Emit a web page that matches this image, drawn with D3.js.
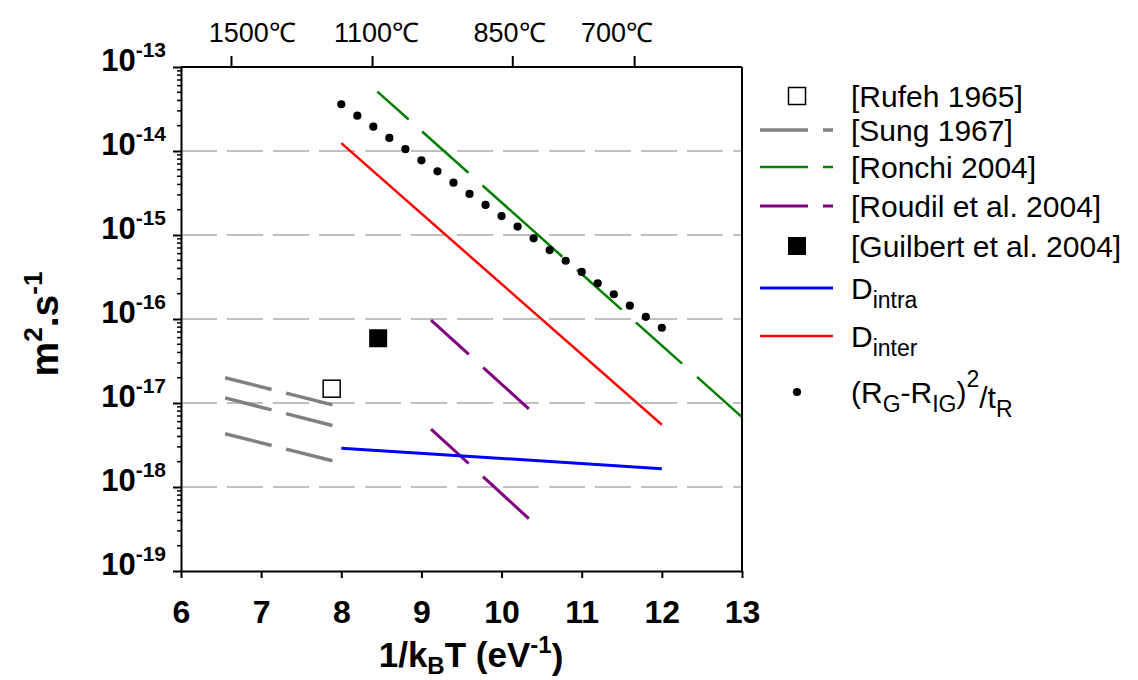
<!DOCTYPE html>
<html><head><meta charset="utf-8">
<script src="https://cdn.jsdelivr.net/npm/d3@7"></script>
<style>
body{margin:0;background:#fff;}
text{font-family:"Liberation Sans",Arial,sans-serif;}
</style></head>
<body><svg id="c" width="1138" height="680"></svg>
<script>
// ---- data ----
const xTicks = [6,7,8,9,10,11,12,13];
const yExponents = [-13,-14,-15,-16,-17,-18,-19];
const tempLabels = ["1500℃","1100℃","850℃","700℃"];
const tempPos = [6.63, 8.39, 10.14, 11.66];      // tick positions (1/kT)
const tempLabelPos = [6.89, 8.44, 10.10, 11.44]; // label centres (1/kT)

const rufehX = [7.88], rufehY = [1.48e-17];
const guilbertX = [8.46], guilbertY = [5.9e-17];

const sungX = [6.55, 7.89];
const sungA = [2.0e-17, 9.5e-18];
const sungB = [1.15e-17, 5.4e-18];
const sungC = [4.3e-18, 2.05e-18];

const ronchiX = [8.45, 13.0];
const ronchiY = [5.1e-14, 6.8e-18];

const roudilX = [9.12, 10.34];
const roudilA = [9.7e-17, 8.5e-18];
const roudilB = [4.9e-18, 4.2e-19];

const intraX = [8, 12];
const intraY = [2.9e-18, 1.65e-18];
const interX = [8, 12];
const interY = [1.24e-14, 5.5e-18];

const rgX = [8.0,8.2,8.4,8.6,8.8,9.0,9.2,9.4,9.6,9.8,10.0,10.2,10.4,10.6,10.8,11.0,11.2,11.4,11.6,11.8,12.0];
const rgY = [3.60e-14,2.63e-14,1.95e-14,1.43e-14,1.05e-14,7.74e-15,5.73e-15,4.20e-15,3.08e-15,2.28e-15,1.68e-15,1.26e-15,9.14e-16,6.62e-16,4.94e-16,3.63e-16,2.66e-16,1.97e-16,1.44e-16,1.06e-16,7.87e-17];

// ---- chart ----
const svg = d3.select("#c");
const L=181, R=742, T=67, B=571;
const x = d3.scaleLinear().domain([6,13]).range([L,R]);
const y = d3.scaleLog().domain([1e-19,1e-13]).range([B,T]);

// gridlines
const g = svg.append("g");
g.selectAll("line.grid").data(yExponents.filter(e=>e>-19&&e<-13)).join("line")
  .attr("x1",L).attr("x2",R).attr("y1",e=>y(Math.pow(10,e))).attr("y2",e=>y(Math.pow(10,e)))
  .attr("stroke","#c0c0c0").attr("stroke-width",2).attr("stroke-dasharray","36,10");

const line = d3.line().x(d=>x(d[0])).y(d=>y(d[1]));
const pairs = (xs,ys)=>xs.map((v,i)=>[v,ys[i]]);

function drawLine(xs,ys,color,w,dash){
  svg.append("path").attr("d",line(pairs(xs,ys))).attr("fill","none")
    .attr("stroke",color).attr("stroke-width",w).attr("stroke-dasharray",dash||null);
}
[sungA,sungB,sungC].forEach(s=>drawLine(sungX,s,"#808080",3.5,"48,15,80"));
[roudilA,roudilB].forEach(s=>drawLine(roudilX,s,"#800080",3,"51,19.5,80"));
drawLine(ronchiX,ronchiY,"#008000",2.5,"42,18,62,19,107,19.5,60,19,62,20,80");
drawLine(interX,interY,"#ff0000",2.5);
drawLine(intraX,intraY,"#0000ff",3);

// markers
svg.selectAll("rect.rufeh").data(pairs(rufehX,rufehY)).join("rect")
  .attr("x",d=>x(d[0])-8.5).attr("y",d=>y(d[1])-8.5).attr("width",17).attr("height",17)
  .attr("fill","#fff").attr("stroke","#000").attr("stroke-width",1.5);
svg.selectAll("rect.gui").data(pairs(guilbertX,guilbertY)).join("rect")
  .attr("x",d=>x(d[0])-9).attr("y",d=>y(d[1])-9).attr("width",18).attr("height",18)
  .attr("fill","#000");
svg.selectAll("circle.rg").data(pairs(rgX,rgY)).join("circle")
  .attr("cx",d=>x(d[0])).attr("cy",d=>y(d[1])).attr("r",4.1).attr("fill","#000");

// axes frame
const ax = svg.append("g").attr("stroke","#000").attr("stroke-width",2);
ax.append("line").attr("x1",L).attr("x2",R).attr("y1",T).attr("y2",T);
ax.append("line").attr("x1",R).attr("x2",R).attr("y1",T).attr("y2",B);

// bottom axis
const xAxis = svg.append("g").attr("transform",`translate(0,${B})`)
  .call(d3.axisBottom(x).tickValues(xTicks).tickSize(7).tickSizeOuter(0).tickFormat(d3.format("d")));
xAxis.select(".domain").attr("stroke-width",2);
xAxis.selectAll(".tick line").attr("stroke-width",2);
xAxis.selectAll(".tick text").attr("font-size",32).attr("font-weight","bold").attr("dy","1.3em")
  .attr("font-family","Liberation Sans, Arial, sans-serif");

// left axis
const yAxis = svg.append("g").attr("transform",`translate(${L},0)`)
  .call(d3.axisLeft(y).tickValues(yExponents.map(e=>Math.pow(10,e))).tickSize(8).tickSizeOuter(0).tickFormat(""));
yAxis.select(".domain").attr("stroke-width",2);
yAxis.selectAll(".tick line").attr("stroke-width",2);
yAxis.selectAll(".tick").each(function(d,i){
  const t = d3.select(this).append("text").attr("x",-15).attr("dy","0.36em")
    .attr("text-anchor","end").attr("fill","#000").attr("font-weight","bold")
    .attr("font-family","Liberation Sans, Arial, sans-serif");
  t.append("tspan").attr("font-size",31).text("10");
  t.append("tspan").attr("font-size",21).attr("dy","-0.65em").text(String(Math.round(Math.log10(d))));
});
// minor ticks
const minors = [];
for (let e=-19;e<-13;e++) for (let m=2;m<=9;m++) minors.push(m*Math.pow(10,e));
svg.append("g").selectAll("line").data(minors).join("line")
  .attr("x1",L-4).attr("x2",L).attr("y1",d=>y(d)).attr("y2",d=>y(d))
  .attr("stroke","#000").attr("stroke-width",1.5);

// top axis ticks + labels
const topAx = svg.append("g");
topAx.selectAll("line").data(tempPos).join("line")
  .attr("x1",d=>x(d)).attr("x2",d=>x(d)).attr("y1",T).attr("y2",T-11)
  .attr("stroke","#000").attr("stroke-width",2);
topAx.selectAll("text").data(tempLabels).join("text")
  .attr("x",(d,i)=>x(tempLabelPos[i])).attr("y",42).attr("text-anchor","middle")
  .attr("font-size",27).attr("fill","#000").text(d=>d);

// axis titles
const xt = svg.append("text").attr("x",471).attr("y",667).attr("text-anchor","middle")
  .attr("font-size",35).attr("font-weight","bold");
xt.append("tspan").text("1/k");
xt.append("tspan").attr("font-size",24).attr("dy","0.3em").text("B");
xt.append("tspan").attr("dy","-0.2em").text("T (eV");
xt.append("tspan").attr("font-size",24).attr("dy","-0.6em").text("-1");
xt.append("tspan").attr("dy","0.45em").text(")");

const yt = svg.append("text").attr("transform","translate(58,324) rotate(-90)").attr("text-anchor","middle")
  .attr("font-size",39).attr("font-weight","bold");
yt.append("tspan").text("m");
yt.append("tspan").attr("font-size",26).attr("dy","-0.6em").text("2");
yt.append("tspan").attr("dy","0.4em").text(".s");
yt.append("tspan").attr("font-size",26).attr("dy","-0.6em").text("-1");

// legend
const legendNames = ["[Rufeh 1965]","[Sung 1967]","[Ronchi 2004]","[Roudil et al. 2004]","[Guilbert et al. 2004]","Dintra","Dinter","RG"];
const legendY = [96,130,167,206,246,288,336,392];
const lg = svg.append("g");
const lx1=760, lx2=833, tx=851, fs=30, sfs=23;
lg.append("rect").attr("x",797-8.5).attr("y",legendY[0]-8.5).attr("width",17).attr("height",17)
  .attr("fill","#fff").attr("stroke","#000").attr("stroke-width",1.5);
const legLines = [[1,"#808080",3.5,"48,15"],[2,"#008000",2.5,"48,15"],[3,"#800080",3,"48,15"],[5,"#0000ff",3,null],[6,"#ff0000",2.5,null]];
legLines.forEach(([i,c,w,da])=>{
  lg.append("line").attr("x1",lx1).attr("x2",lx2).attr("y1",legendY[i]).attr("y2",legendY[i])
    .attr("stroke",c).attr("stroke-width",w).attr("stroke-dasharray",da);
});
lg.append("rect").attr("x",797-9).attr("y",legendY[4]-9).attr("width",18).attr("height",18).attr("fill","#000");
lg.append("circle").attr("cx",797).attr("cy",legendY[7]).attr("r",4.1).attr("fill","#000");
for (let i=0;i<5;i++){
  lg.append("text").attr("x",tx).attr("y",legendY[i]).attr("dy","0.36em").attr("font-size",fs).text(legendNames[i]);
}
function sub(i,main,subs){
  const t = lg.append("text").attr("x",tx).attr("y",legendY[i]).attr("dy","0.36em").attr("font-size",fs);
  t.append("tspan").text(main);
  t.append("tspan").attr("font-size",sfs).attr("dy","0.4em").text(subs);
}
sub(5,"D","intra");
sub(6,"D","inter");
const rt = lg.append("text").attr("x",tx).attr("y",legendY[7]).attr("dy","0.36em").attr("font-size",fs);
rt.append("tspan").text("(R");
rt.append("tspan").attr("font-size",sfs).attr("dy","0.4em").text("G");
rt.append("tspan").attr("dy","-0.3em").text("-R");
rt.append("tspan").attr("font-size",sfs).attr("dy","0.4em").text("IG");
rt.append("tspan").attr("dy","-0.3em").text(")");
rt.append("tspan").attr("font-size",sfs).attr("dy","-0.7em").text("2");
rt.append("tspan").attr("dy","0.7em").text("/t");
rt.append("tspan").attr("font-size",sfs).attr("dy","0.4em").text("R");
</script></body></html>
